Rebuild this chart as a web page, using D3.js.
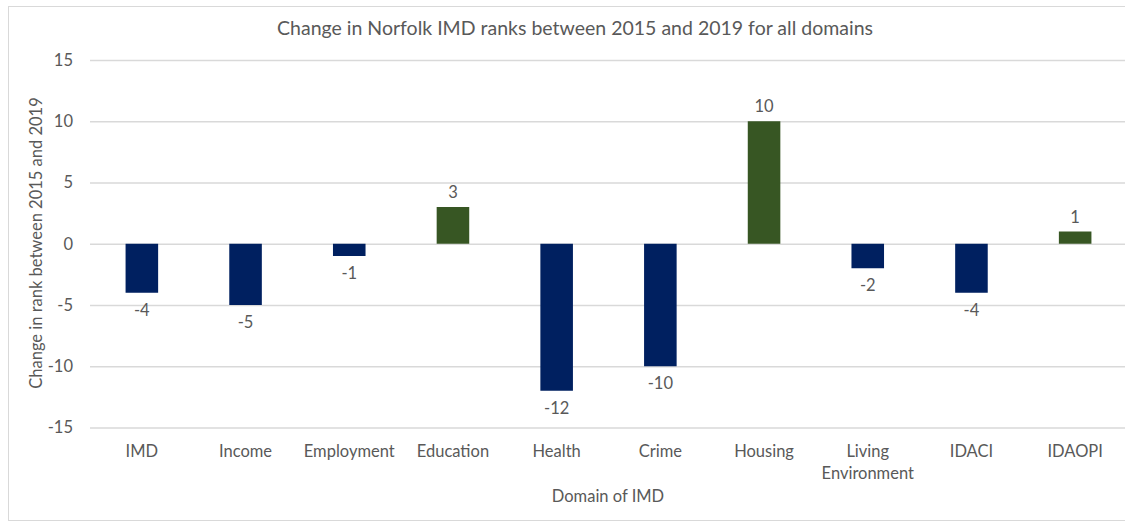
<!DOCTYPE html>
<html>
<head>
<meta charset="utf-8">
<script src="https://cdn.jsdelivr.net/npm/d3@7/dist/d3.min.js"></script>
<style>
  body { margin: 0; background: #fff; }
  svg text { font-family: Lato, "Open Sans", sans-serif; fill: #595959; }
</style>
</head>
<body>
<svg id="chart" width="1125" height="522"></svg>
<script>
// chart data
const domains = ['IMD', 'Income', 'Employment', 'Education', 'Health', 'Crime', 'Housing', 'Living Environment', 'IDACI', 'IDAOPI'];
const rankChange = [-4, -5, -1, 3, -12, -10, 10, -2, -4, 1];
const yTicks = [-15, -10, -5, 0, 5, 10, 15];

const NAVY = '#002060', GREEN = '#375623', GRID = '#d9d9d9';
const W = 1125, H = 522;
const FS = 16.5;
const svg = d3.select('#chart');

// outer frame (right edge cropped off like the source)
svg.append('rect').attr('x', 8.5).attr('y', 6.5).attr('width', W + 10).attr('height', 514)
  .attr('fill', 'none').attr('stroke', GRID);

const x = d3.scaleBand().domain(domains).range([90, 1127]).paddingInner(0.686).paddingOuter(0.343);
const y = d3.scaleLinear().domain([-15, 15]).range([427.5, 60]);

// gridlines + y ticks (plain hyphen minus, like the source)
const yAxis = svg.append('g').attr('transform', 'translate(90,0)')
  .call(d3.axisLeft(y).tickValues(yTicks).tickSize(-(W - 90)).tickPadding(17).tickFormat((d) => String(d)));
yAxis.select('.domain').remove();
yAxis.selectAll('line').attr('stroke', GRID).attr('stroke-width', 1.3);
yAxis.selectAll('text').attr('font-size', FS).style('fill', '#595959');

// bars
svg.append('g').selectAll('rect').data(rankChange).join('rect')
  .attr('x', (d, i) => x(domains[i]))
  .attr('width', x.bandwidth())
  .attr('y', (d) => y(Math.max(0, d)))
  .attr('height', (d) => Math.abs(y(d) - y(0)))
  .attr('fill', (d) => d < 0 ? NAVY : GREEN);

// value labels
svg.append('g').selectAll('text').data(rankChange).join('text')
  .attr('x', (d, i) => x(domains[i]) + x.bandwidth() / 2)
  .attr('y', (d) => d < 0 ? y(d) + 23 : y(d) - 9)
  .attr('text-anchor', 'middle').attr('font-size', FS)
  .text((d) => String(d));

// category labels (Living Environment wraps)
const xl = svg.append('g').selectAll('text').data(domains).join('text')
  .attr('x', (d) => x(d) + x.bandwidth() / 2)
  .attr('y', 457).attr('text-anchor', 'middle').attr('font-size', FS);
xl.each(function (d) {
  const words = d === 'Living Environment' ? ['Living', 'Environment'] : [d];
  d3.select(this).selectAll('tspan').data(words).join('tspan')
    .attr('x', x(d) + x.bandwidth() / 2).attr('dy', (w, i) => i ? 22 : 0).text((w) => w);
});

// titles
svg.append('text').attr('x', 575).attr('y', 35).attr('text-anchor', 'middle')
  .attr('font-size', 19.5).text('Change in Norfolk IMD ranks between 2015 and 2019 for all domains');
svg.append('text').attr('x', 608).attr('y', 502).attr('text-anchor', 'middle')
  .attr('font-size', FS).text('Domain of IMD');
svg.append('text').attr('transform', 'translate(42,243) rotate(-90)').attr('text-anchor', 'middle')
  .attr('font-size', FS).text('Change in rank between 2015 and 2019');
</script>
</body>
</html>
